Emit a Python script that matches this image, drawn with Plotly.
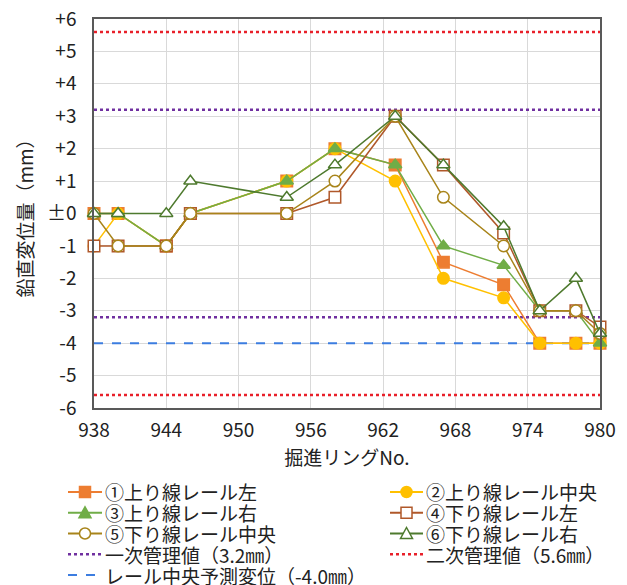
import plotly.graph_objects as go

rings = [938, 940, 944, 946, 954, 958, 963, 967, 972, 975, 978, 980]
s1 = [0, 0, -1, 0, 1, 2, 1.5, -1.5, -2.2, -4, -4, -4]
s2 = [-1, 0, -1, 0, 1, 2, 1, -2, -2.6, -4, -4, -4]
s3 = [0, 0, -1, 0, 1, 2, 1.5, -1, -1.6, -3, -3, -4]
s4 = [-1, -1, -1, 0, 0, 0.5, 3, 1.5, -0.6, -3, -3, -3.5]
s5 = [0, -1, -1, 0, 0, 1, 3, 0.5, -1, -3, -3, -3.7]
s6 = [0, 0, 0, 1, 0.5, 1.5, 3, 1.5, -0.4, -3, -2, -3.7]

names = ["①上り線レール左", "②上り線レール中央", "③上り線レール右",
         "④下り線レール左", "⑤下り線レール中央", "⑥下り線レール右"]
ref_names = ["一次管理値（3.2㎜）", "二次管理値（5.6㎜）", "レール中央予測変位（-4.0㎜）"]
level1 = 3.2
level2 = 5.6
predicted = -4.0
xrange_ = [938, 980]
yticks = [6, 5, 4, 3, 2, 1, 0, -1, -2, -3, -4, -5, -6]
yticklabels = ["+6", "+5", "+4", "+3", "+2", "+1", "±0", "-1", "-2", "-3", "-4", "-5", "-6"]
xticks = [938, 944, 950, 956, 962, 968, 974, 980]

FONT = "Noto Sans CJK JP"
OFF = 8  # default page body margin
W, H = 627 - OFF, 585 - OFF
ML, MR, MT, MB = 94 - OFF, 27, 19 - OFF, 177
PW, PH = W - ML - MR, H - MT - MB

def px(x):  # screenshot pixel -> paper
    return (x - OFF - ML) / PW

def py(y):
    return (H - MB - (y - OFF)) / PH

styles = [
    dict(color="#ED7D31", symbol="square", fill="#ED7D31"),
    dict(color="#FFC000", symbol="circle", fill="#FFC000"),
    dict(color="#70AD47", symbol="triangle-up", fill="#70AD47"),
    dict(color="#B0582A", symbol="square", fill="white"),
    dict(color="#A8841A", symbol="circle", fill="white"),
    dict(color="#4E7A2E", symbol="triangle-up", fill="white"),
]
ref_styles = [
    dict(color="#7030A0", dash="dot", width=2.5),
    dict(color="#E8202A", dash="dot", width=2.5),
    dict(color="#3C7DE0", dash="dash", width=2),
]

fig = go.Figure()
series = [s1, s2, s3, s4, s5, s6]

fig.add_trace(go.Scatter(x=xrange_, y=[level1, level1], mode="lines", name=ref_names[0],
                         line=ref_styles[0]))
fig.add_trace(go.Scatter(x=xrange_, y=[-level1, -level1], mode="lines", name=ref_names[0],
                         line=ref_styles[0]))
fig.add_trace(go.Scatter(x=xrange_, y=[level2, level2], mode="lines", name=ref_names[1],
                         line=ref_styles[1]))
fig.add_trace(go.Scatter(x=xrange_, y=[-level2, -level2], mode="lines", name=ref_names[1],
                         line=ref_styles[1]))
fig.add_trace(go.Scatter(x=xrange_, y=[predicted, predicted], mode="lines", name=ref_names[2],
                         line=ref_styles[2]))

for nm, ys, st in zip(names, series, styles):
    fig.add_trace(go.Scatter(
        x=rings, y=ys, name=nm, mode="lines+markers",
        line=dict(color=st["color"], width=1.5),
        marker=dict(symbol=st["symbol"], size=11.5, color=st["fill"],
                    line=dict(color=st["color"], width=1.5)),
        cliponaxis=False,
    ))

# ---- custom two-column legend ----
ROW0, ROWH = 492, 20.75
col_line = [(68, 102), (390, 423)]
col_text = [104, 425]
order = [(0, 0), (1, 0), (0, 1), (1, 1), (0, 2), (1, 2)]
entries = []
for i, (c, r) in enumerate(order):
    entries.append((c, r, "marker", styles[i], names[i]))
entries.append((0, 3, "line", ref_styles[0], ref_names[0]))
entries.append((1, 3, "line", ref_styles[1], ref_names[1]))
entries.append((0, 4, "line", ref_styles[2], ref_names[2]))

shapes = []
annotations = []
ms = 5.5
for c, r, kind, st, txt in entries:
    y0 = ROW0 + ROWH * r
    xa, xb = col_line[c]
    xm = (xa + xb) / 2
    if kind == "marker":
        shapes.append(dict(type="line", xref="paper", yref="paper",
                           x0=px(xa), x1=px(xb), y0=py(y0), y1=py(y0),
                           line=dict(color=st["color"], width=2)))
        if st["symbol"] == "square":
            shapes.append(dict(type="rect", xref="paper", yref="paper",
                               x0=px(xm - ms), x1=px(xm + ms), y0=py(y0 + ms), y1=py(y0 - ms),
                               fillcolor=st["fill"], line=dict(color=st["color"], width=1.5)))
        elif st["symbol"] == "circle":
            shapes.append(dict(type="circle", xref="paper", yref="paper",
                               x0=px(xm - ms), x1=px(xm + ms), y0=py(y0 + ms), y1=py(y0 - ms),
                               fillcolor=st["fill"], line=dict(color=st["color"], width=1.5)))
        else:
            path = "M {:.5f} {:.5f} L {:.5f} {:.5f} L {:.5f} {:.5f} Z".format(
                px(xm - ms - 0.5), py(y0 + ms - 0.5), px(xm + ms + 0.5), py(y0 + ms - 0.5),
                px(xm), py(y0 - ms - 0.5))
            shapes.append(dict(type="path", xref="paper", yref="paper", path=path,
                               fillcolor=st["fill"], line=dict(color=st["color"], width=1.5)))
    else:
        shapes.append(dict(type="line", xref="paper", yref="paper",
                           x0=px(xa), x1=px(xb), y0=py(y0), y1=py(y0),
                           line=dict(color=st["color"], width=st["width"], dash=st["dash"])))
    annotations.append(dict(text=txt, xref="paper", yref="paper", x=px(col_text[c]), y=py(y0),
                            xanchor="left", yanchor="middle", showarrow=False, borderpad=0,
                            font=dict(size=19, color="#222222", family=FONT)))

fig.update_layout(
    width=W, height=H,
    margin=dict(l=ML, r=MR, t=MT, b=MB, autoexpand=False),
    paper_bgcolor="white", plot_bgcolor="white",
    font=dict(family=FONT, color="#222222", size=18),
    showlegend=False,
    shapes=shapes,
    annotations=annotations,
    xaxis=dict(range=xrange_, tickvals=xticks, showgrid=True,
               gridcolor="#D9D9D9", gridwidth=1, zeroline=False,
               showline=True, linecolor="#595959", linewidth=1.5, mirror=True,
               tickfont=dict(size=19), ticks="", ticklabelstandoff=4,
               ticklabeloverflow="allow",
               title=dict(text="掘進リングNo.", font=dict(size=19), standoff=11)),
    yaxis=dict(range=[-6, 6], tickvals=yticks, ticktext=yticklabels,
               showgrid=True, gridcolor="#D9D9D9", gridwidth=1, zeroline=False,
               showline=True, linecolor="#595959", linewidth=1.5, mirror=True,
               tickfont=dict(size=19), ticks="", ticklabelstandoff=12,
               ticklabeloverflow="allow",
               title=dict(text="鉛直変位量（mm）", font=dict(size=19), standoff=8)),
)

fig.write_html("out.html")
